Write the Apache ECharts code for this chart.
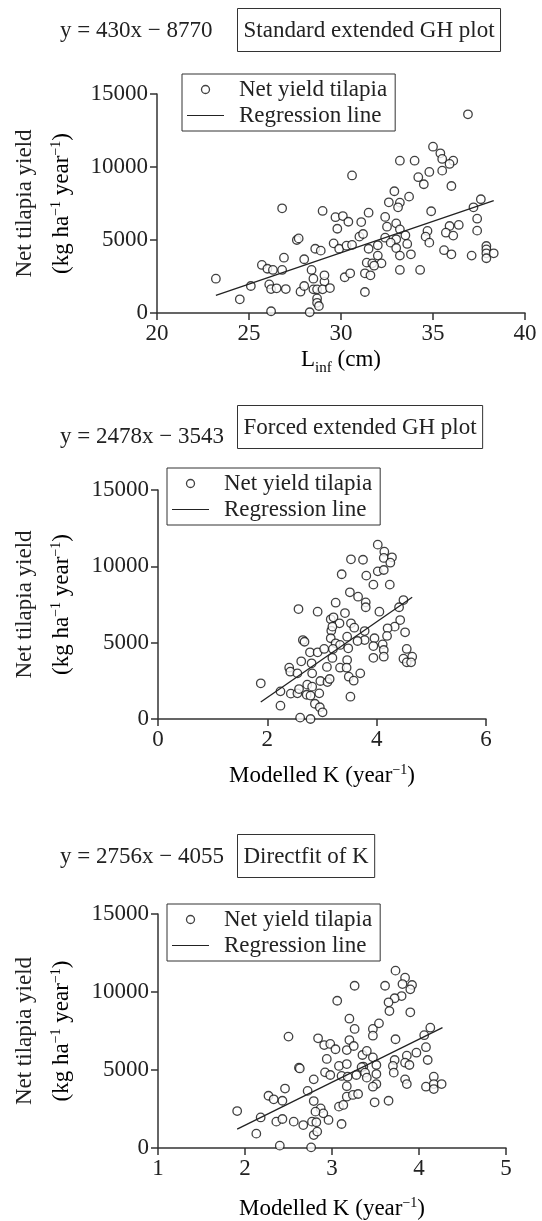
<!DOCTYPE html>
<html><head><meta charset="utf-8">
<script src="https://cdn.jsdelivr.net/npm/echarts@6/dist/echarts.min.js"></script>
<style>html,body{margin:0;padding:0;background:#fff}#c{width:542px;height:1221px}</style>
</head><body><div id="c"></div><script>
// ---- data ----
const seriesNames = ['Net yield tilapia', 'Regression line'];
const panelTitles = ['Standard extended GH plot', 'Forced extended GH plot', 'Directfit of K'];
const equations = ['y = 430x \u2212 8770', 'y = 2478x \u2212 3543', 'y = 2756x \u2212 4055'];
const yTicks = [0, 5000, 10000, 15000];
const xTicks1 = [20, 25, 30, 35, 40];
const xTicks2 = [0, 2, 4, 6];
const xTicks3 = [1, 2, 3, 4, 5];

const linfPoints = [
[23.2,2350],[24.5,940],[25.1,1850],[26.2,120],[25.7,3290],[26.0,3030],[26.3,2950],[26.8,2950],[26.9,3790],[26.8,7170],
[26.1,1960],[26.2,1640],[26.5,1690],[27.0,1640],[27.6,5000],[27.7,5110],[27.8,1460],[28.0,1850],[28.0,3680],[28.3,50],
[28.4,2950],[28.5,1620],[28.6,4400],[28.5,2350],[28.7,1000],[28.7,700],[28.8,480],[28.9,4270],[28.7,1620],[29.0,6990],
[29.1,2150],[29.1,2580],[29.0,1620],[29.4,1710],[29.6,4770],[29.7,6560],[29.8,5770],[29.9,4400],[30.1,6640],[30.2,2450],
[30.3,4610],[30.4,6250],[30.6,9420],[30.5,2720],
[36.9,13610],[35.0,11390],[35.4,10940],[35.5,10550],[36.1,10430],[35.9,10210],[33.2,10430],[34.0,10430],[35.5,9750],[34.8,9660],
[34.2,9300],[34.5,8820],[36.0,8700],[32.9,8340],[33.7,7970],[32.6,7580],[33.2,7560],[33.1,7240],[37.6,7790],[37.2,7240],
[34.9,6970],[37.4,6460],[37.4,5640],[31.5,6870],[31.1,6230],[32.4,6580],[32.5,5910],[33.0,6140],[33.2,5730],[33.5,5320],
[32.4,5160],[33.0,5050],[31.0,5230],[31.2,5410],[30.6,4660],[31.5,4400],[32.0,4640],[32.7,4820],[33.0,4450],[33.6,4730],
[32.0,3930],[33.2,3930],[33.8,4020],[31.4,3450],[31.7,3400],[32.2,3400],[31.8,3240],[33.2,2950],[34.3,2950],[31.3,2720],
[31.6,2580],[31.3,1440],[34.7,5620],[34.6,5230],[34.8,4820],[35.9,5960],[36.4,6030],[35.7,5500],[36.1,5300],[35.6,4300],
[36.0,4020],[37.1,3930],[37.9,4590],[37.9,4360],[37.9,4090],[37.9,3750],[38.3,4090]
];
const forcedKPoints = [
[1.88,2340],[2.24,870],[2.24,1810],[2.43,1660],[2.55,1680],[2.58,1960],[2.72,1590],[2.79,1530],[2.60,90],[2.79,0],
[2.87,1000],[2.95,1680],[2.96,770],[3.01,440],[2.73,2250],[2.82,2120],[2.97,2490],[3.10,2420],[3.14,2620],[2.40,3360],
[2.42,3100],[2.55,2990],[2.62,3780],[2.81,3650],[2.82,2990],[2.78,4370],[2.92,4370],[3.04,4590],[3.09,3410],[3.19,4000],
[2.65,5170],[2.68,5060],[2.57,7200],[2.92,7030],[3.16,6530],[3.21,6660],[3.25,7620],[3.32,6270],[3.42,6940],[3.36,9480],
[3.51,8300],[3.53,10460],[3.17,5780],[3.16,5290],[3.25,4960],[3.33,4850],[3.20,4590],[3.33,3360],[3.46,5390],[3.46,3860],
[3.49,2770],[3.52,1460],[3.19,6050],
[4.02,11420],[4.14,10960],[4.13,10550],[4.28,10590],[4.25,10240],[3.75,10430],[4.02,9670],[4.13,9760],[3.81,9390],[3.94,8800],
[4.24,8800],[3.66,8010],[3.80,7640],[3.80,7320],[4.05,7030],[4.49,7790],[4.41,7320],[4.43,6480],[4.52,5680],[4.33,6050],
[4.20,5940],[4.19,5440],[3.53,6270],[3.59,5980],[3.78,5760],[3.78,5170],[3.65,5110],[3.96,5290],[3.94,4780],[4.11,4890],
[4.13,4520],[4.13,4080],[3.94,4010],[4.55,4590],[4.49,3950],[4.65,4080],[4.55,3710],[4.63,3710],[3.48,4630],[3.45,3360],
[3.58,2510],[3.70,2990]
];
const directKPoints = [
[1.91,2370],[2.18,1960],[2.27,3350],[2.33,3120],[2.43,3030],[2.46,3810],[2.50,7140],[2.62,5150],[2.63,5100],[2.79,4400],
[2.72,3660],[2.36,1690],[2.43,1860],[2.56,1690],[2.67,1470],[2.77,1690],[2.82,1650],[2.96,1800],[2.79,3010],[2.87,2540],
[2.90,2220],[2.81,2330],[2.84,7030],[2.91,6600],[2.98,6670],[3.04,6330],[2.94,5710],[2.92,4850],[2.98,4680],[3.08,5260],
[3.11,4620],[3.08,2650],[3.13,2760],[3.11,1540],[3.06,9440],[3.20,8290],[3.20,6920],[3.17,6280],[3.17,5380],[3.18,4570],
[3.17,3960],[3.17,3290],[2.13,920],[2.40,150],[2.76,40],[2.79,830],[2.83,1050],
[3.73,11370],[3.84,10920],[3.81,10510],[3.92,10450],[3.90,10170],[3.26,10400],[3.61,10400],[3.80,9740],[3.72,9600],[3.65,9340],
[3.66,8780],[3.90,8700],[3.26,7630],[3.47,7630],[3.54,7990],[3.47,7200],[3.73,6970],[4.13,7710],[4.06,7230],[4.08,6460],
[4.10,5640],[3.97,6110],[3.86,5920],[3.72,5640],[3.84,5470],[3.89,5320],[3.70,5260],[3.71,4830],[3.84,4400],[3.86,4100],
[4.08,3930],[4.17,4570],[4.17,4100],[4.17,3780],[4.26,4100],[3.25,6540],[3.35,5960],[3.40,6220],[3.47,5810],[3.51,5320],
[3.51,4740],[3.51,4100],[3.47,3930],[3.36,5220],[3.34,5180],[3.28,4680],[3.38,4830],[3.40,4510],[3.24,3400],[3.30,3460],
[3.49,2930],[3.65,3030]
];
const linfLine = [[23.2,1206],[38.3,7699]];
const forcedKLine = [[1.88,1116],[4.65,7980]];
const directKLine = [[1.91,1209],[4.27,7713]];

// ---- layout ----
const FONT = 'Liberation Serif';
const FS = 23;
const INK = '#222';
const grids = [
  {left:157, top:94, width:368, height:219},
  {left:158, top:490, width:328, height:229},
  {left:158, top:914, width:348, height:234}
];
const xTickSets = [xTicks1, xTicks2, xTicks3];
const pointSets = [linfPoints, forcedKPoints, directKPoints];
const lineSets = [linfLine, forcedKLine, directKLine];
const boxTop = [8, 405, 834];
const eqCenterY = [32, 438, 858];
const legendPos = [{left:182, top:74}, {left:167, top:468}, {left:167, top:904}];
const xTitles = ['{c|L}{b|inf}{c| (cm)}', '{a|Modelled K (year}{s|\u22121}{a|)}', '{a|Modelled K (year}{s|\u22121}{a|)}'];
const xTitleY = [362, 775, 1208];

const rich = {
  a:{fontFamily:FONT, fontSize:FS, color:INK, lineHeight:24, verticalAlign:'bottom'},
  s:{fontFamily:FONT, fontSize:14, color:INK, lineHeight:14, verticalAlign:'top'},
  c:{fontFamily:FONT, fontSize:FS, color:INK, lineHeight:24, verticalAlign:'top'},
  b:{fontFamily:FONT, fontSize:15, color:INK, lineHeight:27, verticalAlign:'bottom'}
};

const axisCommon = {
  axisLine:{show:true, onZero:false, lineStyle:{color:'#333', width:1.5}},
  axisTick:{show:true, inside:false, length:7, lineStyle:{color:'#333', width:1.5}},
  splitLine:{show:false},
  axisLabel:{fontFamily:FONT, fontSize:FS, color:INK, margin:9, formatter:v=>String(v)}
};

const xAxis = [], yAxis = [], series = [], legend = [], graphic = [];
grids.forEach((g,i)=>{
  const xt = xTickSets[i];
  xAxis.push(Object.assign({type:'value', gridIndex:i, min:xt[0], max:xt[xt.length-1], interval:xt[1]-xt[0]}, axisCommon));
  yAxis.push(Object.assign({type:'value', gridIndex:i, min:yTicks[0], max:yTicks[yTicks.length-1], interval:yTicks[1]-yTicks[0]}, axisCommon));
  series.push({
    name:seriesNames[0], type:'scatter', xAxisIndex:i, yAxisIndex:i, data:pointSets[i],
    symbol:'circle', symbolSize:8.5,
    itemStyle:{color:'#fff', borderColor:'#111', borderWidth:1.3}, z:2
  });
  series.push({
    name:seriesNames[1], type:'line', xAxisIndex:i, yAxisIndex:i, data:lineSets[i],
    symbol:'none', showSymbol:false, lineStyle:{color:'#222', width:1.3}, itemStyle:{color:'#222'}, z:3
  });
  legend.push({
    left:legendPos[i].left, top:legendPos[i].top, orient:'vertical', itemGap:3, itemWidth:37, itemHeight:8,
    padding:[4,8,4,5], borderColor:'#333', borderWidth:1, selectedMode:false,
    textStyle:{fontFamily:FONT, fontSize:FS, color:INK, padding:[0,0,0,10]},
    data:[{name:seriesNames[0], icon:'circle', itemStyle:{color:'#fff', borderColor:'#111', borderWidth:1.3}},
          {name:seriesNames[1], icon:'path://M0,0 H37 V1.2 H0 Z', itemStyle:{color:'#222', borderWidth:0}}]
  });
  // equation + title box
  graphic.push({type:'text', left:60, top:eqCenterY[i]-13, style:{text:equations[i], font:FS+'px '+FONT, fill:INK}});
  graphic.push({type:'text', left:237, top:boxTop[i], style:{text:panelTitles[i], font:FS+'px '+FONT, fill:INK,
    borderColor:'#333', borderWidth:1, padding:[11,6,9,6]}});
  // y title
  const cy = g.top + g.height/2;
  graphic.push({type:'text', x:25, y:cy, rotation:Math.PI/2, style:{text:'Net tilapia yield', font:FS+'px '+FONT, fill:INK, align:'center', verticalAlign:'middle'}});
  graphic.push({type:'text', x:61, y:cy, rotation:Math.PI/2, style:{text:'{a|(kg ha}{s|\u22121}{a| year}{s|\u22121}{a|)}', rich:rich, align:'center', verticalAlign:'middle'}});
  // x title
  graphic.push({type:'text', x:g.left+g.width/2, y:xTitleY[i], style:{text:xTitles[i], rich:rich, align:'center', verticalAlign:'middle'}});
});

const chart = echarts.init(document.getElementById('c'), null, {renderer:'canvas'});
chart.setOption({
  backgroundColor:'#fff', animation:false,
  grid:grids, xAxis, yAxis, series, legend, graphic
});
</script></body></html>
